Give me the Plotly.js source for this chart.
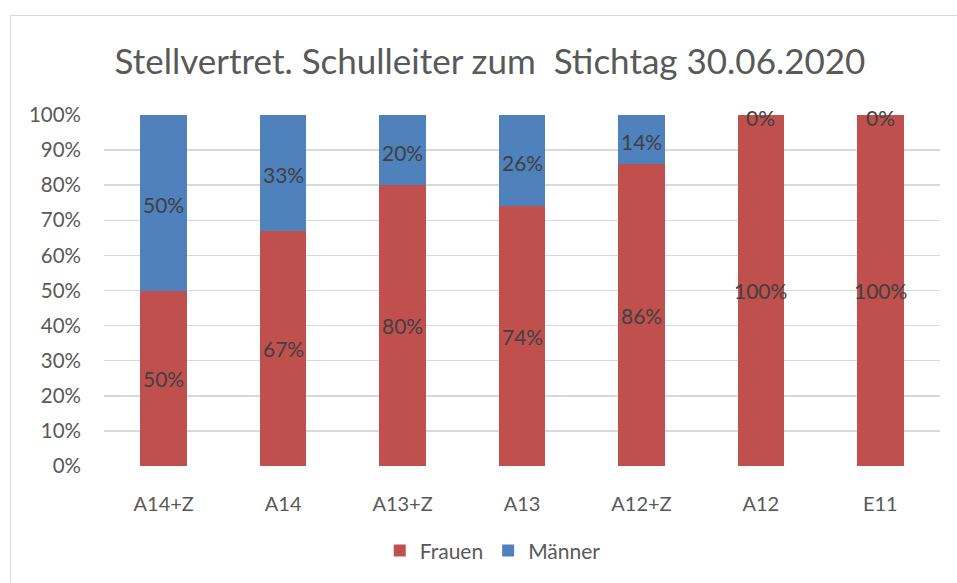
<!DOCTYPE html>
<html>
<head>
<meta charset="utf-8">
<script src="https://cdn.plot.ly/plotly-3.0.1.min.js"></script>
<style>
html,body{margin:0;padding:0;width:957px;height:583px;overflow:hidden;background:#fff;}
#frame{position:absolute;left:10px;top:15px;width:1000px;height:700px;border:1.5px solid #d9d9d9;box-sizing:border-box;}
#chart{position:absolute;left:0;top:0;width:957px;height:583px;}
</style>
</head>
<body>
<div id="frame"></div>
<div id="chart"></div>
<script>
const categories = ["A14+Z","A14","A13+Z","A13","A12+Z","A12","E11"];
const frauen = [0.50, 0.67, 0.80, 0.74, 0.86, 1.00, 1.00];
const maenner = [0.50, 0.33, 0.20, 0.26, 0.14, 0.00, 0.00];
const yTickVals = [0,0.1,0.2,0.3,0.4,0.5,0.6,0.7,0.8,0.9,1.0];
const yTickText = ["0%","10%","20%","30%","40%","50%","60%","70%","80%","90%","100%"];

const fontFam = "Lato, Carlito, 'Open Sans', sans-serif";
const textCol = "#595959";
const labelCol = "#404040";

const traces = [
  {type:"bar", name:"Frauen", x:categories, y:frauen, marker:{color:"#C0504D"}, hoverinfo:"skip"},
  {type:"bar", name:"Männer", x:categories, y:maenner, marker:{color:"#4F81BD"}, hoverinfo:"skip"}
];

const annotations = [];
categories.forEach((c,i)=>{
  annotations.push({x:c, y:frauen[i]/2, xref:"x", yref:"y", text:Math.round(frauen[i]*100)+"%", showarrow:false,
    font:{family:fontFam,size:21,color:labelCol}});
  annotations.push({x:c, y:frauen[i]+maenner[i]/2, xref:"x", yref:"y", yshift:-2, text:Math.round(maenner[i]*100)+"%", showarrow:false,
    font:{family:fontFam,size:21,color:labelCol}});
});

const layout = {
  width:957, height:583,
  margin:{l:104, r:17, t:115, b:114},
  paper_bgcolor:"rgba(0,0,0,0)",
  plot_bgcolor:"rgba(0,0,0,0)",
  barmode:"stack",
  bargap:0.61,
  title:{text:"Stellvertret. Schulleiter zum&nbsp;&nbsp;Stichtag 30.06.2020", font:{family:fontFam,size:35,color:textCol},
    x:0.512, xref:"container", xanchor:"center", y:1-62/583, yref:"container", yanchor:"middle"},
  xaxis:{type:"category", showgrid:false, zeroline:false, showline:false, ticks:"",
    tickfont:{family:fontFam,size:20,color:textCol}, ticklabelstandoff:24},
  yaxis:{range:[0,1], tickvals:yTickVals, ticktext:yTickText, showgrid:true, gridcolor:"#d9d9d9", gridwidth:1.5,
    zeroline:false, showline:false, ticks:"", tickfont:{family:fontFam,size:20.5,color:textCol}, ticklabelstandoff:22},
  showlegend:true,
  legend:{orientation:"h", traceorder:"normal", x:0.465, xanchor:"center", y:-0.242, yanchor:"middle",
    font:{family:fontFam,size:21,color:textCol}, bgcolor:"rgba(0,0,0,0)", itemclick:false},
  annotations:annotations
};

Plotly.newPlot("chart", traces, layout, {staticPlot:true, displayModeBar:false});
</script>
</body>
</html>
